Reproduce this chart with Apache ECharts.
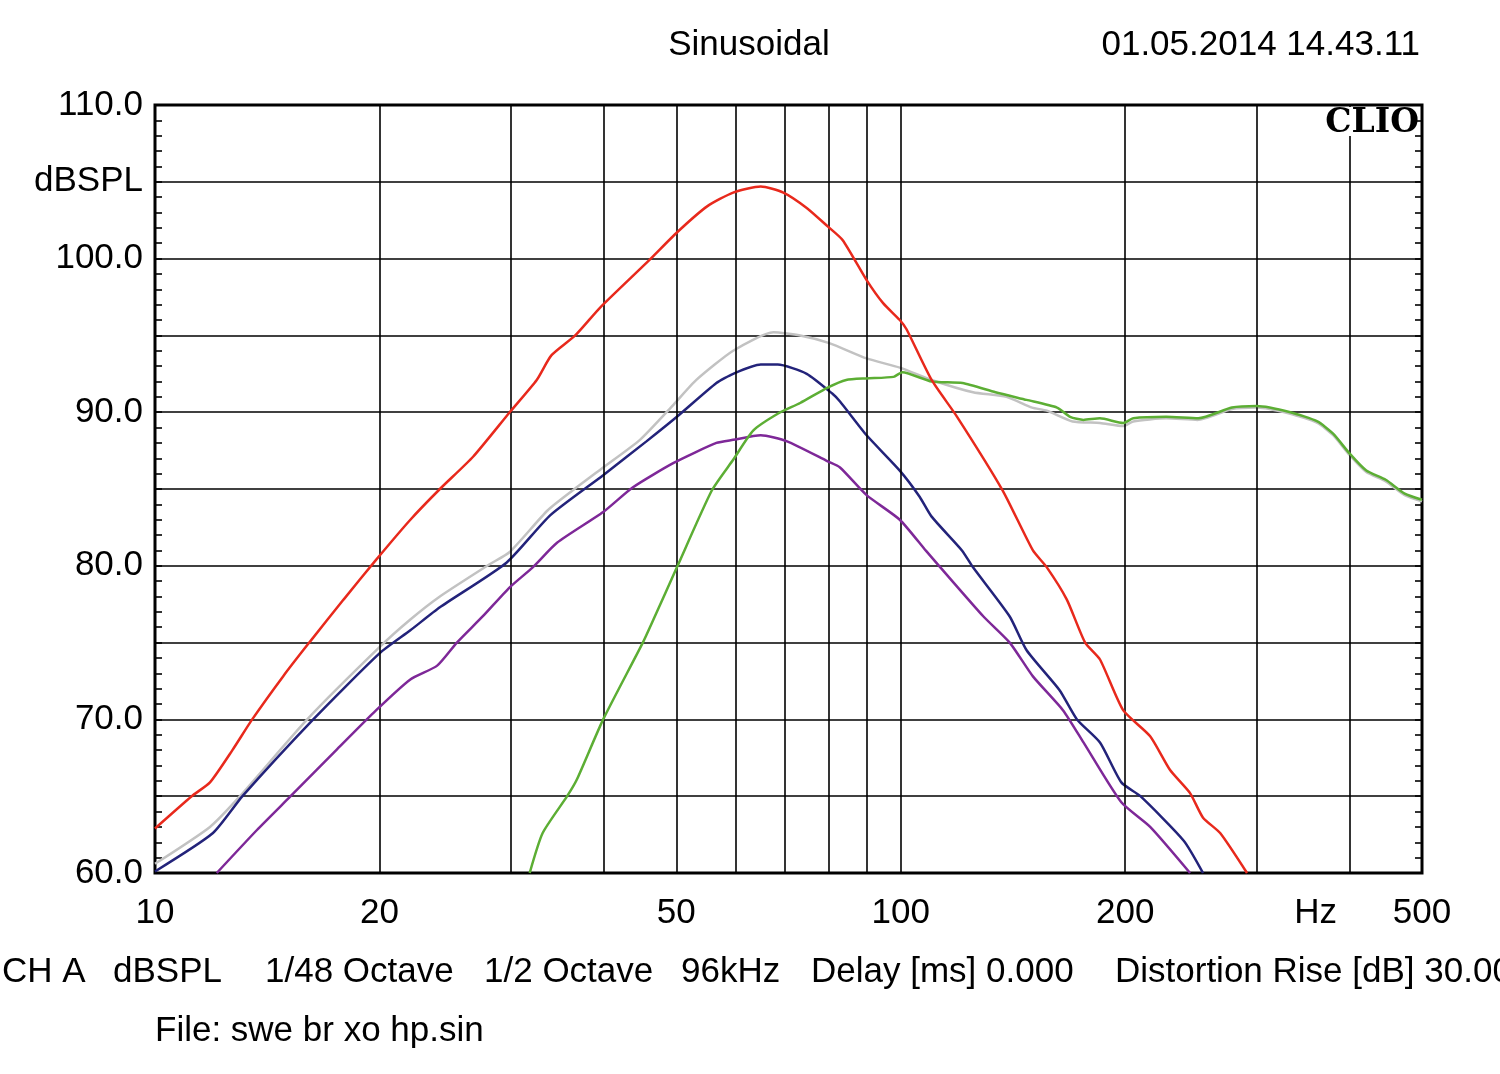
<!DOCTYPE html>
<html><head><meta charset="utf-8">
<script src="https://cdn.jsdelivr.net/npm/echarts@6/dist/echarts.min.js"></script>
<style>html,body{margin:0;padding:0;background:#fff}#c{width:1500px;height:1074px}</style>
</head><body><div id="c"></div>
<script>
// ---- axis / tick data ----
const xLabelValues = [10, 20, 50, 100, 200, 360, 500];
const xLabelTexts = ['10', '20', '50', '100', '200', 'Hz', '500'];
const xGridValues = [20, 30, 40, 50, 60, 70, 80, 90, 100, 200, 300, 400];

// ---- series data: [frequency Hz, dBSPL] ----
const red = [[10,62.9],[11.2,65.0],[11.85,65.9],[12.7,68.0],[13.5,70.0],[14.85,72.8],[16.1,75.0],[17.9,77.8],[19.8,80.4],[22.0,83.0],[24.1,85.0],[26.7,87.1],[29.9,90.0],[32.5,92.1],[34,93.7],[36.6,95.0],[39.5,96.8],[46,99.9],[50.1,101.7],[55,103.4],[59.6,104.3],[64.9,104.7],[69.6,104.3],[74.8,103.3],[79.8,102.1],[83.6,101.2],[90,98.6],[94.7,97.1],[99.7,96.0],[101.8,95.4],[110,92.1],[119,89.7],[137,84.9],[150.4,81.0],[157,79.9],[167,77.8],[176.7,75.0],[185,73.9],[198.7,70.6],[216,68.9],[229.7,66.7],[244.3,65.2],[254.3,63.6],[268.1,62.6],[291.3,60.0]];
const gray = [[10,60.6],[11.85,63.0],[13.0,65.0],[16.0,70.0],[20.0,74.7],[22,76.5],[24.1,78.0],[28.1,80.1],[29.9,80.9],[33.6,83.6],[36.3,84.9],[39.9,86.4],[44.7,88.2],[49.6,90.5],[53.2,92.1],[59.6,94.0],[67.5,95.2],[73.3,95.0],[80.2,94.5],[90,93.5],[99.7,92.9],[110,92.1],[125,91.3],[138.6,91.0],[150,90.3],[157,90.1],[170,89.4],[185,89.3],[198.7,89.1],[205,89.4],[227,89.6],[250,89.5],[278,90.2],[300,90.3],[333,89.9],[362,89.3],[380,88.5],[400,87.2],[421,86.1],[447,85.5],[474,84.6],[500,84.2]];
const navy = [[10,60.1],[11.96,62.6],[13.1,65.0],[16.3,70.0],[20.0,74.3],[22,75.8],[24.1,77.3],[29.6,80.2],[33.9,83.3],[39.9,85.9],[45.6,88.1],[50.1,89.7],[56.6,91.9],[59.6,92.5],[64.9,93.1],[68.4,93.1],[74.8,92.5],[81,91.2],[82.9,90.7],[90,88.5],[99.7,86.2],[106,84.5],[110,83.2],[120.8,81.0],[125,79.9],[140,76.7],[147.5,74.5],[163.3,71.9],[172.3,70.0],[185,68.5],[197.6,65.9],[209.6,65.0],[239.6,62.1],[254.3,60.0]];
const purple = [[12.1,60.0],[13.7,62.8],[15.2,65.0],[17.5,68.0],[19.8,70.6],[22,72.6],[23.9,73.5],[25.4,75.0],[27.5,76.7],[29.9,78.6],[32.1,79.9],[34.6,81.5],[39.9,83.5],[43.7,85.1],[49.6,86.7],[56.6,88.0],[59.6,88.2],[64.9,88.5],[70.4,88.1],[79.8,86.8],[82.9,86.4],[90,84.6],[99.7,83.0],[108,81.0],[113,79.9],[129.1,76.7],[140,75.0],[150.4,72.8],[165,70.6],[175.8,68.5],[197.6,64.6],[216,63.0],[244.3,60.0]];
const green = [[31.8,60.0],[33.1,62.6],[35.7,65.0],[36.8,66.1],[39.9,70.0],[45.1,75.0],[46.6,76.5],[50.1,79.9],[55.8,84.9],[59.6,86.9],[63.4,88.8],[68.4,89.9],[73.3,90.6],[79.8,91.6],[84.5,92.1],[90,92.2],[97.8,92.3],[100.5,92.6],[110,92.0],[121,91.9],[134,91.3],[147.5,90.8],[162,90.3],[168.7,89.7],[175.8,89.5],[185,89.6],[198.7,89.3],[205,89.6],[227,89.7],[250.6,89.6],[278,90.3],[300,90.4],[333,90.0],[362,89.4],[380,88.6],[400,87.3],[421,86.2],[447,85.6],[474,84.7],[500,84.3]];

const FONT = '"Liberation Sans", Arial, sans-serif';
const chart = echarts.init(document.getElementById('c'), null, {renderer: 'canvas'});

function lineSeries(name, data, color, z) {
  return {type: 'line', name, data, symbol: 'none', showSymbol: false, smooth: 0.2,
    clip: true, z, silent: true, animation: false,
    lineStyle: {color, width: 2.5}, emphasis: {disabled: true}};
}

const option = {
  animation: false,
  grid: {left: 155, right: 78, top: 105, bottom: 201, show: true,
    borderColor: '#000', borderWidth: 3, backgroundColor: '#fff', outerBoundsMode: 'none', containLabel: false},
  xAxis: {type: 'log', logBase: 10, min: 10, max: 500,
    axisLabel: {show: false}, axisTick: {show: false}, axisLine: {show: false},
    splitLine: {show: false}, minorTick: {show: false}, minorSplitLine: {show: false}},
  yAxis: [{
    type: 'value', min: 60, max: 110, interval: 5, position: 'left',
    axisLine: {show: false},
    axisTick: {show: true, inside: true, length: 7, lineStyle: {color: '#000', width: 1.6}},
    minorTick: {show: true, splitNumber: 5, length: 7, lineStyle: {color: '#000', width: 1.6}},
    splitLine: {show: true, lineStyle: {color: '#000', width: 1.6}},
    axisLabel: {show: true, showMinLabel: true, showMaxLabel: true, margin: 12,
      fontSize: 35, fontFamily: FONT, color: '#000',
      formatter: function (v) {
        if (v % 10 === 0) return v.toFixed(1);
        if (v === 105) return 'dBSPL';
        return '';
      }}
  }, {
    type: 'value', min: 60, max: 110, interval: 5, position: 'right',
    axisLine: {show: false}, axisLabel: {show: false}, splitLine: {show: false},
    axisTick: {show: true, inside: true, length: 7, lineStyle: {color: '#000', width: 1.6}},
    minorTick: {show: true, splitNumber: 5, length: 7, lineStyle: {color: '#000', width: 1.6}}
  }],
  series: [
    {type: 'line', name: 'grid', data: [], z: 1, silent: true, animation: false,
      markLine: {silent: true, symbol: 'none', animation: false, label: {show: false},
        lineStyle: {color: '#000', width: 1.6, type: 'solid'},
        emphasis: {disabled: true},
        data: xGridValues.map(v => ({xAxis: v}))}},
    lineSeries('gray', gray, '#c2c2c2', 3),
    lineSeries('navy', navy, '#23237a', 4),
    lineSeries('purple', purple, '#7e2898', 5),
    lineSeries('green', green, '#5cae34', 6),
    lineSeries('red', red, '#e8291c', 7)
  ]
};
chart.setOption(option);

function txt(text, x, y, align, font, extra) {
  return Object.assign({type: 'text', x, y, z: 100, silent: true,
    style: {text, font, fill: '#000', align, verticalAlign: 'middle', textAlign: align, textVerticalAlign: 'middle'}}, extra || {});
}
const F35 = '35px ' + FONT;
const g = [];
xLabelValues.forEach((v, i) => {
  g.push(txt(xLabelTexts[i], chart.convertToPixel({xAxisIndex: 0}, v), 913, 'center', F35));
});
g.push(txt('Sinusoidal', 749, 45, 'center', F35));
g.push(txt('01.05.2014 14.43.11', 1420, 45, 'right', F35));
g.push({type: 'rect', z: 99, silent: true, shape: {x: 1323, y: 107, width: 91, height: 29}, style: {fill: '#fff'}});
g.push(txt('CLIO', 1419, 123, 'right', 'bold 33px "DejaVu Serif", serif'));
const bottomTexts = ['CH A', 'dBSPL', '1/48 Octave', '1/2 Octave', '96kHz', 'Delay [ms] 0.000', 'Distortion Rise [dB] 30.00'];
const bottomX = [2, 113, 265, 484, 681, 811, 1115];
bottomTexts.forEach((t, i) => g.push(txt(t, bottomX[i], 972, 'left', F35)));
g.push(txt('File: swe br xo hp.sin', 155, 1031, 'left', F35));
chart.setOption({graphic: g});
</script>
</body></html>
